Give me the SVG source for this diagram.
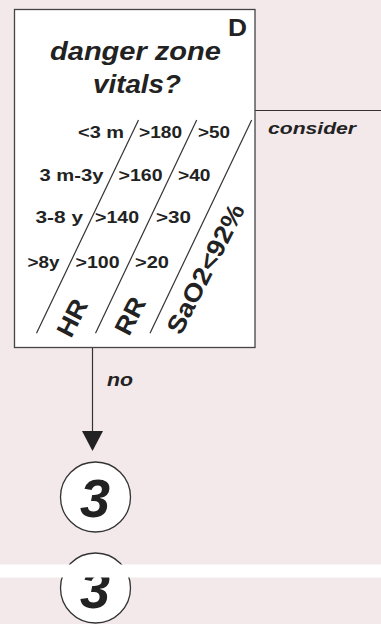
<svg xmlns="http://www.w3.org/2000/svg" width="381" height="624" viewBox="0 0 381 624">
<style>
.t{font-family:"Liberation Sans",Arial,sans-serif;font-weight:bold;fill:#222}
.it{font-style:italic}
.row{font-size:17px}
.big{font-size:25px}
.ln{stroke:#333;stroke-width:1.2;fill:none}
</style>
<rect x="0" y="0" width="381" height="624" fill="#f3e8ea"/>
<g id="connectors">
<line class="ln" x1="255" y1="110.5" x2="381" y2="110.5"/>
<text class="t it" x="268" y="133.5" font-size="16" textLength="88" lengthAdjust="spacingAndGlyphs">consider</text>
<line class="ln" x1="92.5" y1="347" x2="92.5" y2="432"/>
<path d="M82,431 L103,431 L92.5,451 Z" fill="#222"/>
<text class="t it" x="107" y="386" font-size="18" textLength="26" lengthAdjust="spacingAndGlyphs">no</text>
</g>
<g id="nodeD">
<rect x="14.5" y="9.5" width="240.5" height="338" fill="#fff" stroke="#444" stroke-width="1.3"/>
<text class="t" x="228" y="36" font-size="24" textLength="19" lengthAdjust="spacingAndGlyphs">D</text>
<text class="t it" x="50" y="60" font-size="26" textLength="171" lengthAdjust="spacingAndGlyphs">danger zone</text>
<text class="t it" x="93" y="93" font-size="26" textLength="88" lengthAdjust="spacingAndGlyphs">vitals?</text>
<line class="ln" x1="138.5" y1="120" x2="36.5" y2="333.3"/>
<line class="ln" x1="196.7" y1="120" x2="95.5" y2="333.3"/>
<line class="ln" x1="251.7" y1="120" x2="150" y2="333.3"/>
<g class="t row">
<text x="78" y="137.5" textLength="46" lengthAdjust="spacingAndGlyphs">&lt;3 m</text>
<text x="139" y="137.5" textLength="43" lengthAdjust="spacingAndGlyphs">&gt;180</text>
<text x="198" y="137.5" textLength="32" lengthAdjust="spacingAndGlyphs">&gt;50</text>
<text x="39.5" y="180.5" textLength="64" lengthAdjust="spacingAndGlyphs">3 m-3y</text>
<text x="118.5" y="180.5" textLength="44" lengthAdjust="spacingAndGlyphs">&gt;160</text>
<text x="178" y="180.5" textLength="32.5" lengthAdjust="spacingAndGlyphs">&gt;40</text>
<text x="35.5" y="223" textLength="47.5" lengthAdjust="spacingAndGlyphs">3-8 y</text>
<text x="95" y="223" textLength="44" lengthAdjust="spacingAndGlyphs">&gt;140</text>
<text x="156" y="223" textLength="35" lengthAdjust="spacingAndGlyphs">&gt;30</text>
<text x="27.5" y="267.5" textLength="32" lengthAdjust="spacingAndGlyphs">&gt;8y</text>
<text x="75.5" y="267.5" textLength="44" lengthAdjust="spacingAndGlyphs">&gt;100</text>
<text x="135" y="267.5" textLength="34" lengthAdjust="spacingAndGlyphs">&gt;20</text>
</g>
<g class="t big">
<text transform="translate(71,339) rotate(-63)" textLength="39" lengthAdjust="spacingAndGlyphs">HR</text>
<text transform="translate(129,337) rotate(-63)" textLength="39" lengthAdjust="spacingAndGlyphs">RR</text>
<text transform="translate(181,336) rotate(-63)" textLength="142" lengthAdjust="spacingAndGlyphs">SaO2&lt;92%</text>
</g>
</g>
<g id="node3">
<circle cx="95.5" cy="497" r="35" fill="#fff" stroke="#333" stroke-width="1.3"/>
<text class="t it" x="95" y="517" font-size="54" text-anchor="middle">3</text>
</g>
<g id="node3b">
<circle cx="95.5" cy="588" r="35" fill="#fff" stroke="#333" stroke-width="1.3"/>
<text class="t it" x="95" y="608" font-size="54" text-anchor="middle">3</text>
</g>
<rect x="0" y="564.5" width="381" height="13" fill="#fff"/>
</svg>
